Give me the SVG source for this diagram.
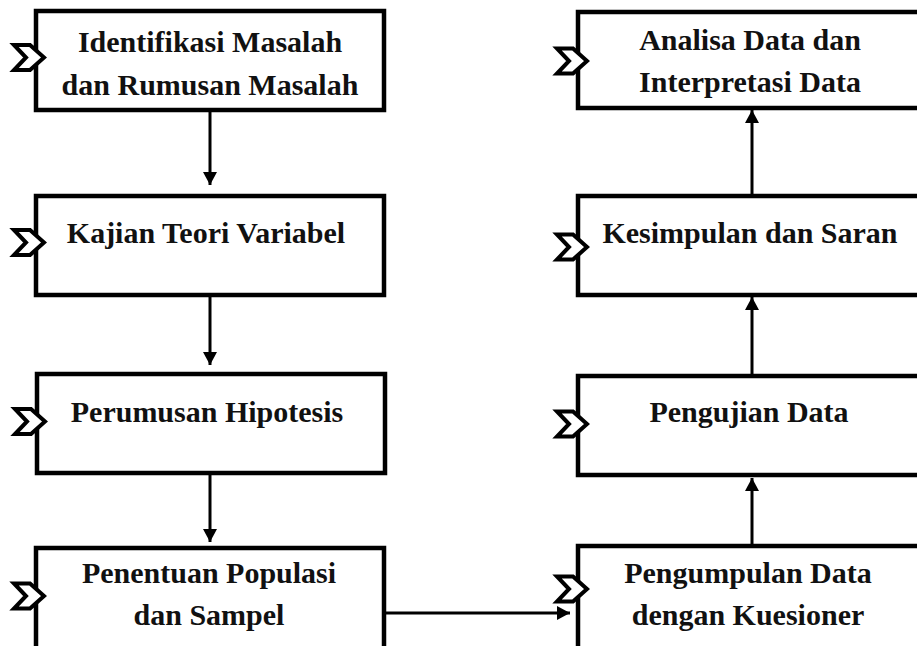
<svg xmlns="http://www.w3.org/2000/svg" width="917" height="646" viewBox="0 0 917 646">
<style>
.box{fill:#fff;stroke:#000;stroke-width:4.5}
.t{font-family:"Liberation Serif","Times New Roman",serif;font-weight:bold;font-size:30px;fill:#111;text-anchor:middle}
.con{stroke:#000;stroke-width:3;fill:none;marker-end:url(#ah)}
</style>
<defs>
<marker id="ah" markerWidth="14" markerHeight="14" refX="13" refY="7" orient="auto" markerUnits="userSpaceOnUse"><path d="M0,0 L13,7 L0,14 z" fill="#000"/></marker>
<path id="chev" d="M-21,-12.5 L-5,-12.5 L9,0 L-5,12.5 L-21,12.5 L-9,0 Z" fill="#fff" stroke="#000" stroke-width="4" stroke-linejoin="miter"/>
</defs>
<rect width="917" height="646" fill="#fff"/>
<g id="connectors">
<line class="con" x1="210" y1="110" x2="210" y2="185"/>
<line class="con" x1="210" y1="295" x2="210" y2="365"/>
<line class="con" x1="210" y1="473" x2="210" y2="542"/>
<line class="con" x1="384" y1="613" x2="570" y2="613"/>
<line class="con" x1="752" y1="545" x2="752" y2="478"/>
<line class="con" x1="752" y1="375" x2="752" y2="297"/>
<line class="con" x1="752" y1="195" x2="752" y2="110"/>
</g>
<g id="n1">
<rect class="box" x="36" y="11" width="348" height="99"/>
<use href="#chev" x="35" y="57.5"/>
<text class="t" x="210" y="52">Identifikasi Masalah</text>
<text class="t" x="210" y="95">dan Rumusan Masalah</text>
</g>
<g id="n2">
<rect class="box" x="36" y="196" width="348" height="99"/>
<use href="#chev" x="35" y="242.5"/>
<text class="t" x="206" y="243">Kajian Teori Variabel</text>
</g>
<g id="n3">
<rect class="box" x="37" y="374" width="348" height="99"/>
<use href="#chev" x="36" y="421.5"/>
<text class="t" x="207" y="422">Perumusan Hipotesis</text>
</g>
<g id="n4">
<rect class="box" x="36" y="548" width="348" height="110"/>
<use href="#chev" x="35" y="596"/>
<text class="t" x="209" y="583">Penentuan Populasi</text>
<text class="t" x="209" y="625">dan Sampel</text>
</g>
<g id="n5">
<rect class="box" x="578" y="12" width="360" height="96"/>
<use href="#chev" x="578" y="61"/>
<text class="t" x="750" y="50">Analisa Data dan</text>
<text class="t" x="750" y="92">Interpretasi Data</text>
</g>
<g id="n6">
<rect class="box" x="578" y="196" width="360" height="99"/>
<use href="#chev" x="578" y="247"/>
<text class="t" x="750" y="243">Kesimpulan dan Saran</text>
</g>
<g id="n7">
<rect class="box" x="578" y="376" width="360" height="99"/>
<use href="#chev" x="578" y="424"/>
<text class="t" x="749" y="422">Pengujian Data</text>
</g>
<g id="n8">
<rect class="box" x="578" y="546" width="360" height="110"/>
<use href="#chev" x="578" y="589"/>
<text class="t" x="748" y="583">Pengumpulan Data</text>
<text class="t" x="748" y="625">dengan Kuesioner</text>
</g>
</svg>
